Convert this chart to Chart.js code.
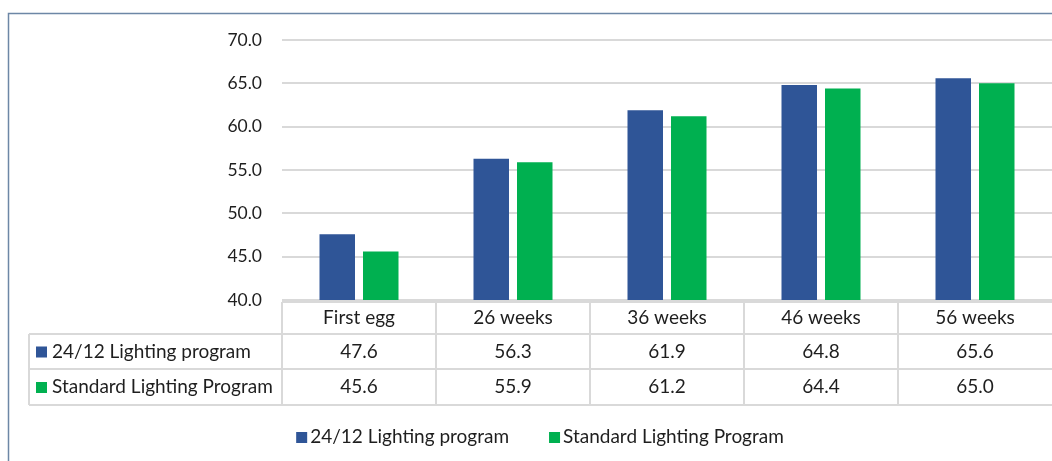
<!DOCTYPE html>
<html>
<head>
<meta charset="utf-8">
<script src="https://cdn.jsdelivr.net/npm/chart.js@4.4.0/dist/chart.umd.min.js"></script>
<style>
  html, body { margin: 0; padding: 0; background: #fff; }
  #wrap { width: 1052px; height: 461px; }
</style>
</head>
<body>
<div id="wrap"><canvas id="chart" width="1052" height="461"></canvas></div>
<script>
// egg weight by age, two lighting programs
const categories = ['First egg', '26 weeks', '36 weeks', '46 weeks', '56 weeks'];
const lighting2412 = [47.6, 56.3, 61.9, 64.8, 65.6];
const standardLighting = [45.6, 55.9, 61.2, 64.4, 65.0];
const seriesNames = ['24/12 Lighting program', 'Standard Lighting Program'];
const seriesColors = ['#2F5597', '#00B050'];

const FONT = 'Lato, "Open Sans", sans-serif';
const TEXT = '#1e1e1e';
const GRID = '#d9d9d9';

// frame + data table + legend under the plot
const tablePlugin = {
    id: 'dataTable',
    beforeDraw(chart) {
        const ctx = chart.ctx;
        ctx.save();
        ctx.strokeStyle = '#6d87a6';
        ctx.lineWidth = 1.5;
        ctx.beginPath();
        ctx.moveTo(8.5, chart.height);
        ctx.lineTo(8.5, 13.5);
        ctx.lineTo(chart.width, 13.5);
        ctx.stroke();
        ctx.restore();
    },
    afterDraw(chart) {
        const ctx = chart.ctx;
        const x = chart.scales.x;
        const area = chart.chartArea;
        const n = categories.length;
        const colW = (area.right - area.left) / n;
        const top = area.bottom + 2;
        const rows = [top, 334, 369, 405];
        const labelLeft = 29;

        ctx.save();
        ctx.strokeStyle = GRID;
        ctx.lineWidth = 2;
        ctx.beginPath();
        // header line only over the category columns
        ctx.moveTo(area.left, rows[0]);
        ctx.lineTo(chart.width, rows[0]);
        for (let r = 1; r < rows.length; r++) {
            ctx.moveTo(labelLeft, rows[r]);
            ctx.lineTo(chart.width, rows[r]);
        }
        ctx.moveTo(labelLeft, rows[1]);
        ctx.lineTo(labelLeft, rows[3]);
        for (let i = 0; i < n; i++) {
            const edge = x.getPixelForValue(i) - colW / 2;
            ctx.moveTo(edge, rows[0]);
            ctx.lineTo(edge, rows[3]);
        }
        ctx.stroke();

        ctx.fillStyle = TEXT;
        ctx.font = '19px ' + FONT;
        ctx.textBaseline = 'middle';
        ctx.textAlign = 'center';
        categories.forEach((c, i) => {
            ctx.fillText(c, x.getPixelForValue(i), (rows[0] + rows[1]) / 2);
        });
        chart.data.datasets.forEach((ds, r) => {
            const cy = (rows[r + 1] + rows[r + 2]) / 2;
            ds.data.forEach((v, i) => {
                ctx.fillStyle = TEXT;
                ctx.textAlign = 'center';
                ctx.fillText(v.toFixed(1), x.getPixelForValue(i), cy);
            });
            ctx.fillStyle = ds.backgroundColor;
            ctx.fillRect(36, cy - 5, 11, 11);
            ctx.fillStyle = TEXT;
            ctx.textAlign = 'left';
            ctx.fillText(ds.label, 52, cy);
        });

        // legend row
        const ly = 437;
        const gap = 40;
        const widths = chart.data.datasets.map(ds => 14 + ctx.measureText(ds.label).width);
        const total = widths.reduce((a, b) => a + b, 0) + gap;
        let lx = 540 - total / 2;
        chart.data.datasets.forEach((ds, i) => {
            ctx.fillStyle = ds.backgroundColor;
            ctx.fillRect(lx, ly - 5, 11, 11);
            ctx.fillStyle = TEXT;
            ctx.textAlign = 'left';
            ctx.fillText(ds.label, lx + 14, ly);
            lx += widths[i] + gap;
        });
        ctx.restore();
    }
};

new Chart(document.getElementById('chart'), {
    type: 'bar',
    data: {
        labels: categories,
        datasets: [
            { label: seriesNames[0], data: lighting2412, backgroundColor: seriesColors[0] },
            { label: seriesNames[1], data: standardLighting, backgroundColor: seriesColors[1] }
        ]
    },
    options: {
        responsive: false,
        animation: false,
        devicePixelRatio: 1,
        categoryPercentage: 0.565,
        barPercentage: 0.816,
        layout: { padding: { top: 40, right: 0, bottom: 161, left: 0 } },
        scales: {
            x: {
                display: false
            },
            y: {
                min: 40,
                max: 70,
                afterFit: s => { s.width = 282; },
                border: { display: false },
                grid: { color: GRID, lineWidth: 2, drawTicks: false },
                ticks: {
                    stepSize: 5,
                    padding: 20,
                    color: TEXT,
                    font: { family: FONT, size: 17.5 },
                    callback: v => v.toFixed(1)
                }
            }
        },
        plugins: {
            legend: { display: false },
            tooltip: { enabled: false }
        }
    },
    plugins: [tablePlugin]
});
</script>
</body>
</html>
